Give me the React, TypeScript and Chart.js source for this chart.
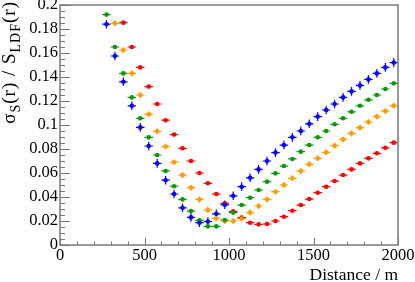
import { useEffect, useRef } from "react";
import { Chart, registerables } from "chart.js";

Chart.register(...registerables);

// Distances (m) of the points of each series
const distBlue = [275, 325, 375, 425, 475, 525, 575, 625, 675, 725, 775, 825, 875, 925, 975, 1025, 1075, 1125, 1175, 1225, 1275, 1325, 1375, 1425, 1475, 1525, 1575, 1625, 1675, 1725, 1775, 1825, 1875, 1925, 1975];
const distGreen = [275, 325, 375, 425, 475, 525, 575, 625, 675, 725, 775, 825, 875, 925, 975, 1025, 1075, 1125, 1175, 1225, 1275, 1325, 1375, 1425, 1475, 1525, 1575, 1625, 1675, 1725, 1775, 1825, 1875, 1925, 1975];
const distOrange = [325, 375, 425, 475, 525, 575, 625, 675, 725, 775, 825, 875, 925, 975, 1025, 1075, 1125, 1175, 1225, 1275, 1325, 1375, 1425, 1475, 1525, 1575, 1625, 1675, 1725, 1775, 1825, 1875, 1925, 1975];
const distRed = [375, 425, 475, 525, 575, 625, 675, 725, 775, 825, 875, 925, 975, 1025, 1075, 1125, 1175, 1225, 1275, 1325, 1375, 1425, 1475, 1525, 1575, 1625, 1675, 1725, 1775, 1825, 1875, 1925, 1975];

// sigma_S / S_LDF values
const valBlue = [0.184, 0.1575, 0.136, 0.116, 0.098, 0.0825, 0.068, 0.054, 0.0425, 0.031, 0.023, 0.0186, 0.0196, 0.026, 0.0335, 0.041, 0.0486, 0.056, 0.063, 0.07, 0.077, 0.0833, 0.0897, 0.095, 0.101, 0.107, 0.1125, 0.1175, 0.123, 0.128, 0.133, 0.138, 0.143, 0.148, 0.152];
const valGreen = [0.192, 0.165, 0.143, 0.123, 0.1056, 0.0897, 0.075, 0.0617, 0.049, 0.038, 0.0283, 0.0205, 0.0155, 0.0155, 0.0208, 0.027, 0.0333, 0.0394, 0.0458, 0.0528, 0.0597, 0.0658, 0.0717, 0.0778, 0.0833, 0.0897, 0.095, 0.1006, 0.1056, 0.111, 0.116, 0.121, 0.125, 0.13, 0.1347];
const valOrange = [0.1847, 0.1625, 0.143, 0.125, 0.109, 0.0947, 0.082, 0.069, 0.0583, 0.0478, 0.038, 0.0292, 0.0222, 0.02, 0.02, 0.022, 0.027, 0.0325, 0.038, 0.0444, 0.05, 0.0556, 0.0617, 0.0672, 0.0722, 0.0772, 0.0828, 0.088, 0.093, 0.0978, 0.1025, 0.107, 0.1117, 0.116];
const valRed = [0.1853, 0.165, 0.148, 0.132, 0.1175, 0.104, 0.092, 0.0806, 0.07, 0.06, 0.0514, 0.0425, 0.0347, 0.028, 0.0228, 0.0186, 0.0172, 0.0175, 0.02, 0.0236, 0.0286, 0.0333, 0.0383, 0.0436, 0.0486, 0.0533, 0.0583, 0.063, 0.068, 0.0722, 0.0764, 0.081, 0.0853];

// error half-widths (vertical, in value units) per series; horizontal is half a bin
const errBlue = 0.0036;
const errGreen = 0.0008;
const errOrange = 0.0025;
const errRed = 0.0008;
const binHalfWidth = 25;

const xTickValues = [0, 500, 1000, 1500, 2000];
const yTickValues = [0, 0.02, 0.04, 0.06, 0.08, 0.1, 0.12, 0.14, 0.16, 0.18, 0.2];
const xMinorStep = 100;
const yMinorStep = 0.005;

const xTitle = "Distance / m";
const yTitleParts = [
  { t: "σ", sub: false },
  { t: "S", sub: true },
  { t: "(r) / S", sub: false },
  { t: "LDF", sub: true },
  { t: "(r)", sub: false },
];

const FONT = "'Liberation Serif', 'DejaVu Serif', serif";
const FRAME = "#7a7a7a";

const toPts = (xs: number[], ys: number[]) => xs.map((x, i) => ({ x, y: ys[i] }));

const errorBarPlugin = {
  id: "errorBars",
  beforeDatasetsDraw(chart: any) {
    const ctx = chart.ctx;
    const xs = chart.scales.x;
    const ys = chart.scales.y;
    chart.data.datasets.forEach((ds: any) => {
      ctx.save();
      ctx.strokeStyle = ds.backgroundColor;
      ctx.lineWidth = 1.2;
      ds.data.forEach((p: any) => {
        const px = xs.getPixelForValue(p.x);
        const py = ys.getPixelForValue(p.y);
        const x0 = xs.getPixelForValue(p.x - binHalfWidth);
        const x1 = xs.getPixelForValue(p.x + binHalfWidth);
        const y0 = ys.getPixelForValue(p.y - ds.errY);
        const y1 = ys.getPixelForValue(p.y + ds.errY);
        ctx.beginPath();
        ctx.moveTo(x0, py);
        ctx.lineTo(x1, py);
        ctx.moveTo(px, y0);
        ctx.lineTo(px, y1);
        ctx.stroke();
      });
      ctx.restore();
    });
  },
};

const framePlugin = {
  id: "rootFrame",
  afterDraw(chart: any) {
    const ctx = chart.ctx;
    const { left, right, top, bottom } = chart.chartArea;
    const xs = chart.scales.x;
    const ys = chart.scales.y;
    ctx.save();
    ctx.strokeStyle = FRAME;
    ctx.lineWidth = 1.5;
    ctx.strokeRect(left, top, right - left, bottom - top);
    ctx.lineWidth = 1;
    ctx.beginPath();
    // y ticks (inside)
    const yMajorLen = (right - left) * 0.03;
    for (let v = ys.min; v <= ys.max + 1e-9; v += yMinorStep) {
      const isMajor = yTickValues.some((t) => Math.abs(t - v) < 1e-9);
      const py = Math.round(ys.getPixelForValue(v)) + 0.5;
      ctx.moveTo(left, py);
      ctx.lineTo(left + (isMajor ? yMajorLen : yMajorLen / 2), py);
    }
    const xMajorLen = (bottom - top) * 0.03;
    for (let v = xs.min; v <= xs.max + 1e-9; v += xMinorStep) {
      const isMajor = xTickValues.some((t) => Math.abs(t - v) < 1e-9);
      const px = Math.round(xs.getPixelForValue(v)) + 0.5;
      ctx.moveTo(px, bottom);
      ctx.lineTo(px, bottom - (isMajor ? xMajorLen : xMajorLen / 2));
    }
    ctx.stroke();
    ctx.restore();

    // y axis title with subscripts
    ctx.save();
    const mainFont = `19px ${FONT}`;
    const subFont = `14px ${FONT}`;
    (ctx as any).letterSpacing = "1px";
    let total = 0;
    const widths = yTitleParts.map((p) => {
      ctx.font = p.sub ? subFont : mainFont;
      const w = ctx.measureText(p.t).width;
      total += w;
      return w;
    });
    ctx.translate(15, top - 4);
    ctx.rotate(-Math.PI / 2);
    ctx.fillStyle = "#000";
    ctx.textBaseline = "alphabetic";
    ctx.textAlign = "left";
    let u = -total;
    yTitleParts.forEach((p, i) => {
      ctx.font = p.sub ? subFont : mainFont;
      ctx.fillText(p.t, u, p.sub ? 5 : 0);
      u += widths[i];
    });
    ctx.restore();
  },
};

export default function App() {
  const ref = useRef<HTMLCanvasElement>(null);
  useEffect(() => {
    const chart = new Chart(ref.current!, {
      type: "scatter",
      data: {
        datasets: [
          { label: "blue", data: toPts(distBlue, valBlue), backgroundColor: "#0000ff", errY: errBlue } as any,
          { label: "green", data: toPts(distGreen, valGreen), backgroundColor: "#0c980c", errY: errGreen } as any,
          { label: "orange", data: toPts(distOrange, valOrange), backgroundColor: "#ff9c00", errY: errOrange } as any,
          { label: "red", data: toPts(distRed, valRed), backgroundColor: "#ff0000", errY: errRed } as any,
        ],
      },
      options: {
        animation: false,
        responsive: false,
        events: [],
        layout: { padding: { left: 0, top: 5, right: 17, bottom: 0 } },
        elements: { point: { radius: 2.3, borderWidth: 0, pointStyle: "circle" } },
        plugins: { legend: { display: false }, tooltip: { enabled: false } },
        scales: {
          x: {
            type: "linear",
            min: 0,
            max: 2000,
            grid: { display: false, drawTicks: false, tickLength: 0 },
            border: { display: false },
            afterBuildTicks: (s: any) => {
              s.ticks = xTickValues.map((v) => ({ value: v }));
            },
            afterFit: (s: any) => {
              s.height = 37;
              s.paddingLeft = 0;
              s.paddingRight = 0;
            },
            ticks: {
              autoSkip: false,
              maxRotation: 0,
              padding: 1,
              color: "#000",
              font: { family: FONT, size: 16.5 },
              callback: (v: any) => String(v),
            },
            title: {
              display: true,
              text: xTitle,
              align: "end",
              color: "#000",
              padding: 0,
              font: { family: FONT, size: 17.5, lineHeight: 0.75 },
            },
          },
          y: {
            type: "linear",
            min: 0,
            max: 0.2,
            grid: { display: false, drawTicks: false, tickLength: 0 },
            border: { display: false },
            afterBuildTicks: (s: any) => {
              s.ticks = yTickValues.map((v) => ({ value: v }));
            },
            afterFit: (s: any) => {
              s.width = 60;
              s.paddingTop = 0;
              s.paddingBottom = 0;
            },
            ticks: {
              autoSkip: false,
              padding: 2,
              color: "#000",
              font: { family: FONT, size: 16.5 },
              callback: (v: any) => String(Number(Number(v).toFixed(3))),
            },
          },
        },
      } as any,
      plugins: [errorBarPlugin, framePlugin],
    });
    return () => chart.destroy();
  }, []);
  return (
    <div style={{ position: "fixed", left: 0, top: 0, width: 415, height: 282, background: "#fff" }}>
      <canvas ref={ref} width={415} height={282} style={{ display: "block" }} />
    </div>
  );
}
